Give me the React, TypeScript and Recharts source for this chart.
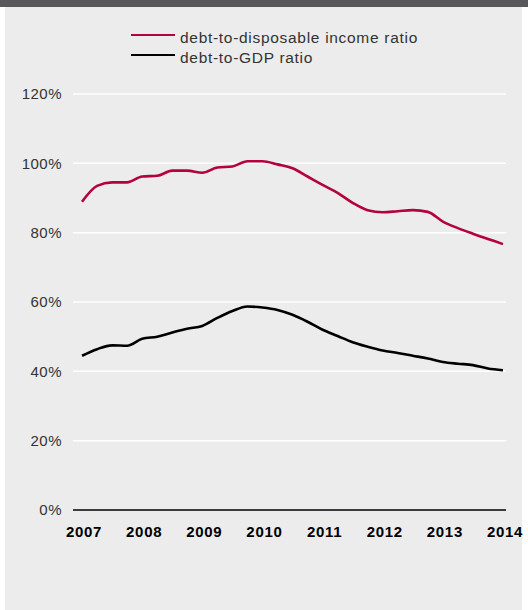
import { CartesianGrid, Line, LineChart, XAxis, YAxis } from "recharts";

// quarterly observations, 2007 Q1 .. 2014 Q1
const quarters = [
  2007, 2007.25, 2007.5, 2007.75, 2008, 2008.25, 2008.5, 2008.75, 2009, 2009.25,
  2009.5, 2009.75, 2010, 2010.25, 2010.5, 2010.75, 2011, 2011.25, 2011.5,
  2011.75, 2012, 2012.25, 2012.5, 2012.75, 2013, 2013.25, 2013.5, 2013.75, 2014,
];

const incomeRatio = [
  88.9, 93.5, 94.5, 94.5, 96.2, 96.4, 97.9, 97.9, 97.3, 98.8, 99.1, 100.6,
  100.6, 99.7, 98.6, 96.2, 93.8, 91.5, 88.6, 86.5, 85.9, 86.2, 86.5, 86.0,
  83.2, 81.3, 79.7, 78.2, 76.7,
];

const gdpRatio = [
  44.5, 46.4, 47.5, 47.4, 49.4, 50.0, 51.2, 52.3, 53.1, 55.4, 57.4, 58.7, 58.4,
  57.7, 56.3, 54.3, 52.0, 50.2, 48.4, 47.1, 46.0, 45.3, 44.5, 43.7, 42.7, 42.2,
  41.8, 40.8, 40.3,
];

const yearTicks = [2007, 2008, 2009, 2010, 2011, 2012, 2013, 2014];
const pctTicks = [0, 20, 40, 60, 80, 100, 120];

const series = [
  { key: "income", label: "debt-to-disposable income ratio", color: "#b4023c" },
  { key: "gdp", label: "debt-to-GDP ratio", color: "#000000" },
];

const data = quarters.map((q, i) => ({
  q,
  income: incomeRatio[i],
  gdp: gdpRatio[i],
}));

const font = "'Liberation Sans', Arial, Helvetica, sans-serif";

function LegendBox() {
  return (
    <div
      style={{
        position: "absolute",
        top: 28,
        left: 131,
        fontFamily: font,
        fontSize: 15.5,
        letterSpacing: 0.7,
        color: "#333",
      }}
    >
      {series.map((s) => (
        <div
          key={s.key}
          style={{ display: "flex", alignItems: "center", height: 20 }}
        >
          <span
            style={{
              display: "inline-block",
              width: 44,
              height: 2.5,
              background: s.color,
              marginRight: 5,
              position: "relative",
              top: -3,
            }}
          />
          <span>{s.label}</span>
        </div>
      ))}
    </div>
  );
}

export default function App() {
  return (
    <div
      style={{
        position: "absolute",
        left: 0,
        top: 0,
        width: 528,
        height: 610,
        background: "#ffffff",
        overflow: "hidden",
      }}
    >
      <div
        style={{
          position: "absolute",
          left: 0,
          top: 0,
          width: 528,
          height: 7,
          background: "#58585a",
        }}
      />
      <div
        style={{
          position: "absolute",
          left: 5,
          top: 7,
          width: 517,
          height: 603,
          background: "#ebeceb",
        }}
      />
      <div style={{ position: "absolute", left: 0, top: 0 }}>
        <LineChart
          width={528}
          height={610}
          data={data}
          margin={{ top: 94, right: 22, bottom: 70, left: 13 }}
        >
          <CartesianGrid
            vertical={false}
            stroke="#ffffff"
            strokeWidth={1.5}
            horizontalValues={[20, 40, 60, 80, 100, 120]}
          />
          <XAxis
            dataKey="q"
            type="number"
            domain={[2006.85, 2014.05]}
            ticks={yearTicks}
            tickFormatter={(v) => String(v)}
            height={30}
            tickLine={false}
            tickSize={0}
            tickMargin={16}
            axisLine={{ stroke: "#000", strokeWidth: 1.3 }}
            interval={0}
            allowDataOverflow
            tick={{
              fill: "#000",
              fontSize: 15,
              fontWeight: 700,
              fontFamily: font,
              letterSpacing: 0.7,
              dx: 2,
            }}
          />
          <YAxis
            domain={[0, 120]}
            ticks={pctTicks}
            tickFormatter={(v) => `${v}%`}
            width={60}
            tickLine={false}
            tickSize={0}
            tickMargin={11}
            axisLine={false}
            interval={0}
            tick={{
              fill: "#333",
              fontSize: 15,
              fontFamily: font,
              letterSpacing: 0.5,
            }}
          />
          {series.map((s) => (
            <Line
              key={s.key}
              dataKey={s.key}
              type="monotone"
              stroke={s.color}
              strokeWidth={2.6}
              dot={false}
              activeDot={false}
              isAnimationActive={false}
            />
          ))}
        </LineChart>
      </div>
      <LegendBox />
    </div>
  );
}
